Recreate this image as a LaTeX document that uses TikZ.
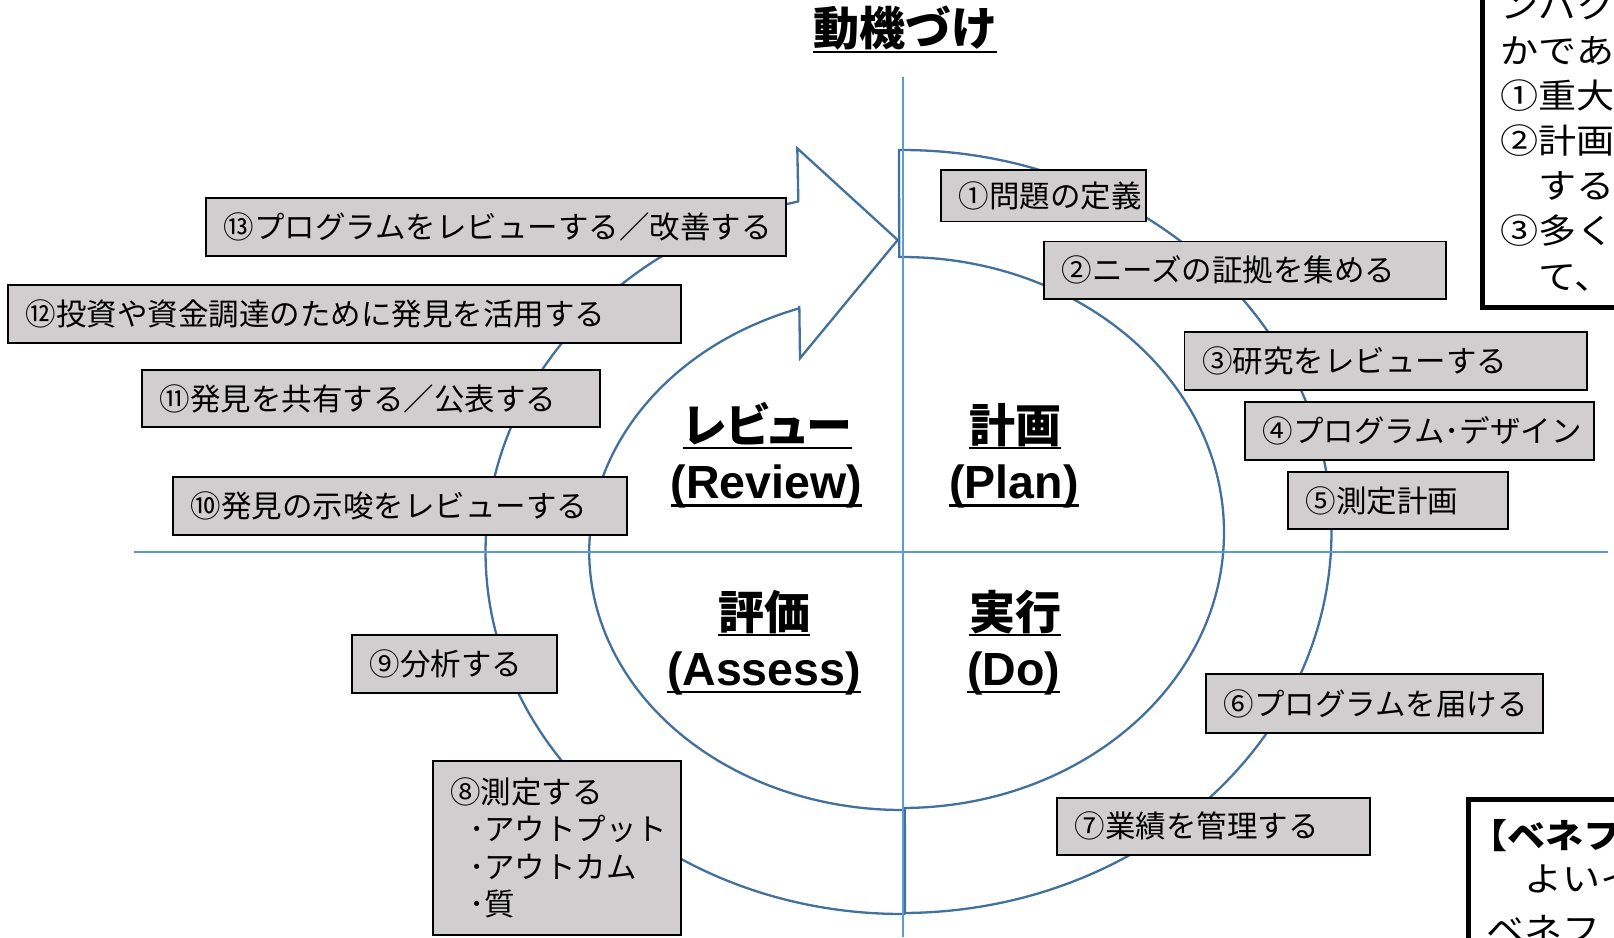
\documentclass[tikz,border=0pt]{standalone}
\usepackage{fontspec}
\setmainfont{Liberation Sans}
\newfontfamily\jpfont{Noto Sans CJK JP}
\newfontfamily\jppfont{Noto Sans CJK JP}[RawFeature=+palt]
\newfontfamily\jpwfont{Noto Sans CJK JP}[FakeStretch=1.12]
\definecolor{ringblue}{HTML}{41719C}
\definecolor{axisblue}{HTML}{5B9BD5}
\definecolor{boxgray}{HTML}{D0CECE}
\newcommand\myul[3]{\setbox0\hbox{#3}\rlap{\vrule height -#1 depth \dimexpr #1+#2\relax width \wd0}\box0}
\tikzset{
  ring/.style={draw=ringblue, line width=2.3pt, line join=miter},
  axisline/.style={draw=axisblue, line width=1.2pt},
  gbox/.style={draw=black, line width=1.8pt, fill=boxgray, inner xsep=17.5pt, inner ysep=0pt, align=left, font=\jpfont\fontsize{30.5}{37.5}\selectfont},
  blkframe/.style={draw=black, line width=5pt},
  lbl/.style={anchor=base, inner sep=0pt, font=\bfseries\fontsize{46.5}{50}\selectfont},
  jlbl/.style={anchor=base, inner sep=0pt, font=\jpfont\bfseries\fontsize{46}{50}\selectfont},
  side/.style={anchor=base west, inner sep=0pt, font=\jpwfont\fontsize{34}{40}\selectfont}
}
\begin{document}
\begin{tikzpicture}[x=1pt,y=1pt]
\useasboundingbox (0,0) rectangle (1614,-937);
\clip (0,0) rectangle (1614,-937);
\fill[white] (0,0) rectangle (1614,-937);
% circular arrow (left half)
\draw[ring] ([shift={(902,-552)}]270.3:416.5 and 362) arc[start angle=270.3, end angle=104.46, x radius=416.5, y radius=362]
  -- (798.3,-200) -- (797.3,-148.3) -- (897.7,-240) -- (800,-358.3) -- (799.3,-306)
  -- ([shift={(902,-552)}]109.2:312.7 and 258) arc[start angle=109.2, end angle=270.37, x radius=312.7, y radius=258] -- cycle;
% block arc (right half)
\draw[ring] ([shift={(902,-531.5)}]90.4:429.5 and 381.5) arc[start angle=90.4, end angle=-89.6, x radius=429.5, y radius=381.5]
  -- ([shift={(902,-532.5)}]-89.5:322 and 275.5) arc[start angle=-89.5, end angle=90.5, x radius=322, y radius=275.5] -- cycle;
% axes
\draw[axisline] (903,-77) -- (903,-937);
\draw[axisline] (134,-552) -- (1608,-552);
% title
\node[jlbl] (title) at (905,-45) {\myul{5.7pt}{2pt}{動機づけ}};
% quadrant labels
\node[jlbl, font=\jppfont\bfseries\fontsize{46}{50}\selectfont] (rvj) at (767.5,-442.5) {\myul{4pt}{2.8pt}{レビュー}};
\node[lbl] (rve) at (766.5,-498.3) {\myul{5.7pt}{2.5pt}{(Review)}};
\node[jlbl] (plj) at (1015,-442.5) {\myul{4pt}{2.8pt}{計画}};
\node[lbl] (ple) at (1014,-498.3) {\myul{5.7pt}{2.5pt}{(Plan)}};
\node[jlbl] (asj) at (764,-629) {\myul{4.5pt}{2.8pt}{評価}};
\node[lbl] (ase) at (764,-685) {\myul{5.7pt}{2.5pt}{(Assess)}};
\node[jlbl] (doj) at (1015,-629) {\myul{4.5pt}{2.8pt}{実行}};
\node[lbl] (doe) at (1013.5,-685) {\myul{5.7pt}{2.5pt}{(Do)}};
% step boxes
\node[gbox, text width=170pt, minimum height=51.5pt] (b1) at (1043.5,-195.75) {①問題の定義};
\node[gbox, text width=367pt, minimum height=57.5pt] (b2) at (1245,-270.25) {②ニーズの証拠を集める};
\node[gbox, text width=367.5pt, minimum height=57.7pt] (b3) at (1385.75,-361.15) {③研究をレビューする};
\node[gbox, text width=314pt, minimum height=58.3pt] (b4) at (1419.5,-430.85) {④プログラム･デザイン};
\node[gbox, text width=185pt, minimum height=57.6pt] (b5) at (1398,-500.5) {⑤測定計画};
\node[gbox, text width=302pt, minimum height=58.4pt] (b6) at (1374.5,-703.5) {⑥プログラムを届ける};
\node[gbox, text width=278pt, minimum height=57.3pt] (b7) at (1213.5,-826.35) {⑦業績を管理する};
\node[gbox, text width=213.3pt, minimum height=174.3pt] (b8) at (556.85,-847.85) {⑧測定する\\\hspace*{19pt}･アウトプット\\\hspace*{19pt}･アウトカム\\\hspace*{19pt}･質};
\node[gbox, text width=169.7pt, minimum height=57.7pt] (b9) at (454.35,-663.85) {⑨分析する};
\node[gbox, text width=419pt, minimum height=58.4pt] (b10) at (400,-505.8) {⑩発見の示唆をレビューする};
\node[gbox, text width=423pt, minimum height=57pt] (b11) at (371,-398.5) {⑪発見を共有する／公表する};
\node[gbox, text width=638pt, minimum height=58pt] (b12) at (344.5,-314) {⑫投資や資金調達のために発見を活用する};
\node[gbox, text width=545pt, minimum height=58.3pt] (b13) at (496,-226.85) {⑬プログラムをレビューする／改善する};
% side boxes (cut off)
\draw[blkframe] (1482,20) rectangle (1640,-307.5);
\node[side] (tr1) at (1500,-18) {ンパク};
\node[side] (tr2) at (1500,-63) {かであ};
\node[side] (tr3) at (1500,-108) {①重大};
\node[side] (tr4) at (1500,-153) {②計画};
\node[side] (tr5) at (1500,-198) {　する};
\node[side] (tr6) at (1500,-243) {③多く};
\node[side] (tr7) at (1500,-289) {　て、};
\draw[blkframe] (1468,-799.7) rectangle (1640,-960);
\node[side, font=\jpwfont\bfseries\fontsize{34}{40}\selectfont] (br1) at (1469,-848) {【ベネフ};
\node[side] (br2) at (1486,-891) {　よいイ};
\node[side] (br3) at (1486,-942.6) {ベネフ};
\end{tikzpicture}
\end{document}
